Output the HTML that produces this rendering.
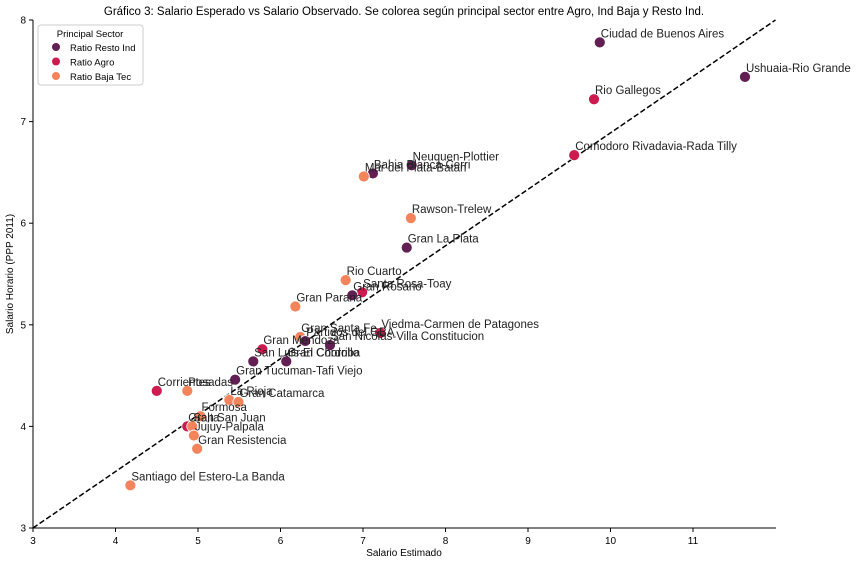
<!DOCTYPE html>
<html><head><meta charset="utf-8"><style>
body{margin:0;background:#fff;font-family:"Liberation Sans",Arial,sans-serif}
svg text{font-family:"Liberation Sans",Arial,sans-serif}
</style></head><body>
<svg id="chart" width="862" height="564" xmlns="http://www.w3.org/2000/svg"></svg>
<script>
const labels=["Ciudad de Buenos Aires","Ushuaia-Rio Grande","Rio Gallegos","Comodoro Rivadavia-Rada Tilly","Neuquen-Plottier","Bahia Blanca-Cerri","Mar del Plata-Batan","Rawson-Trelew","Gran La Plata","Rio Cuarto","Santa Rosa-Toay","Gran Rosario","Gran Parana","Gran Santa Fe","Partidos del GBA","Viedma-Carmen de Patagones","San Nicolas-Villa Constitucion","Gran Mendoza","San Luis-El Chorrillo","Gran Cordoba","Gran Tucuman-Tafi Viejo","Corrientes","Posadas","La Rioja","Gran Catamarca","Formosa","Gran San Juan","Salta","Jujuy-Palpala","Gran Resistencia","Santiago del Estero-La Banda"];
const estimado=[9.87,11.63,9.80,9.56,7.59,7.12,7.01,7.58,7.53,6.79,6.99,6.87,6.18,6.24,6.30,7.21,6.60,5.78,5.67,6.07,5.45,4.50,4.87,5.38,5.49,5.03,4.87,4.93,4.95,4.99,4.18];
const observado=[7.78,7.44,7.22,6.67,6.57,6.49,6.46,6.05,5.76,5.44,5.32,5.29,5.18,4.88,4.84,4.92,4.80,4.76,4.64,4.64,4.46,4.35,4.35,4.26,4.24,4.10,4.00,4.00,3.91,3.78,3.42];
const sector=["R","R","A","A","R","R","B","B","R","B","A","R","B","B","R","A","R","A","R","R","R","A","B","B","B","B","A","B","B","B","B"];
const xTicks=[3,4,5,6,7,8,9,10,11];
const yTicks=[3,4,5,6,7,8];
const colors={R:"#611f53",A:"#cb1b4f",B:"#f3845c"};
const svg=document.getElementById('chart');
const NS="http://www.w3.org/2000/svg";
const X=v=>33+(v-3)*82.5, Y=v=>528-(v-3)*101.6;
function mk(t,a,p){const e=document.createElementNS(NS,t);for(const k in a)e.setAttribute(k,a[k]);(p||svg).appendChild(e);return e;}
let e=mk('text',{x:404,y:15,'font-size':11.5,'text-anchor':'middle',fill:'#000'});e.textContent="Gráfico 3: Salario Esperado vs Salario Observado. Se colorea según principal sector entre Agro, Ind Baja y Resto Ind.";


e=mk('line',{x1:X(3),y1:Y(3),x2:X(12),y2:Y(8),stroke:'#000','stroke-width':1.5,'stroke-dasharray':'5.5,2.5'});


e=mk('line',{x1:33,y1:20,x2:33,y2:528,stroke:'#000','stroke-width':1});


e=mk('line',{x1:33,y1:528,x2:776,y2:528,stroke:'#000','stroke-width':1});


xTicks.forEach(t=>{mk('line',{x1:X(t),y1:528,x2:X(t),y2:532,stroke:'#000'});
const s=mk('text',{x:X(t),y:544,'font-size':10,'text-anchor':'middle'});s.textContent=t;

});
yTicks.forEach(t=>{mk('line',{x1:29,y1:Y(t),x2:33,y2:Y(t),stroke:'#000'});
const s=mk('text',{x:26,y:Y(t)+3.5,'font-size':10,'text-anchor':'end'});s.textContent=t;

});
e=mk('text',{x:404,y:556,'font-size':10,'text-anchor':'middle'});e.textContent="Salario Estimado";


e=mk('text',{x:13,y:274,'font-size':10,'text-anchor':'middle',transform:'rotate(-90 13 274)'});e.textContent="Salario Horario (PPP 2011)";


labels.forEach((l,i)=>{const c=mk('circle',{cx:X(estimado[i]),cy:Y(observado[i]),r:5.5,fill:colors[sector[i]],stroke:'#fff','stroke-width':0.8});

});
labels.forEach((l,i)=>{const t=mk('text',{x:X(estimado[i])+1,y:Y(observado[i])-5,'font-size':11.5,fill:'#222'});t.textContent=l;

});
const lg=mk('g',{});


mk('rect',{x:38,y:25,width:105,height:34+26,rx:3,fill:'#fff',stroke:'#ccc'},lg);
e=mk('text',{x:90,y:37,'font-size':9.5,'text-anchor':'middle'},lg);e.textContent="Principal Sector";
[["R","Ratio Resto Ind"],["A","Ratio Agro"],["B","Ratio Baja Tec"]].forEach((d,k)=>{
const c=mk('circle',{cx:56,cy:47+k*14.5,r:4,fill:colors[d[0]]},lg);


const t=mk('text',{x:70,y:51+k*14.5,'font-size':9.5},lg);t.textContent=d[1];

});
</script>
</body></html>
